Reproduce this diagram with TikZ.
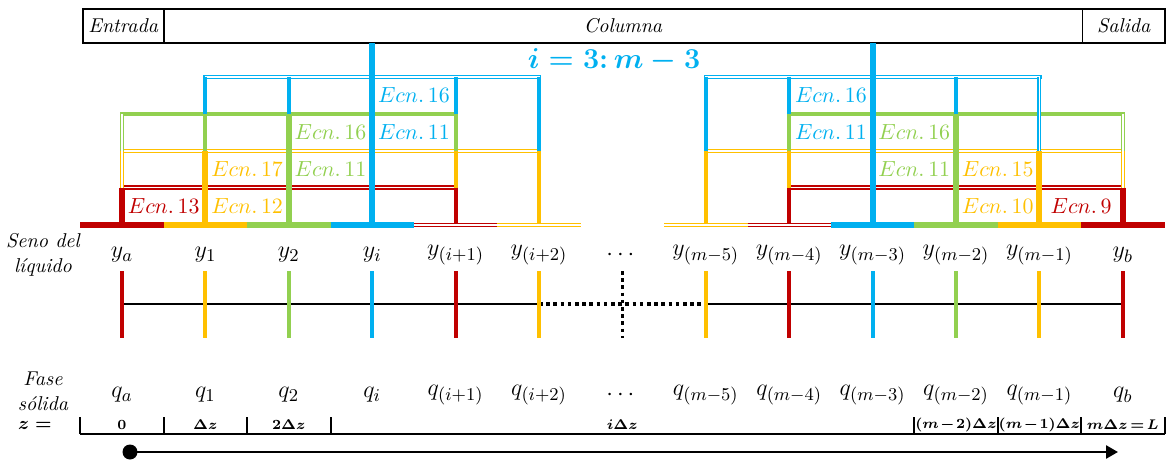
\documentclass[tikz,border=0pt]{standalone}
\usepackage{amsmath}
\usepackage{amssymb}
\usetikzlibrary{arrows.meta, positioning, calc}

\definecolor{ecred}{HTML}{C00000}
\definecolor{ecyellow}{HTML}{FFC000}
\definecolor{ecgreen}{HTML}{92D050}
\definecolor{ecblue}{HTML}{00B0F0}

\begin{document}
\begin{tikzpicture}[
    x=0.5pt, y=-0.5pt,
    hdr/.style={draw=black, line width=0.9pt, outer sep=0pt, inner sep=0pt,
                minimum height=17pt, font=\fontsize{10}{12}\selectfont\itshape},
    bar/.style={line width=3pt},
    dbar/.style={line width=0.8pt, double=white, double distance=0.8pt},
    hline/.style={line width=0.75pt, double=white, double distance=0.7pt, line cap=rect},
    gline/.style={line width=1.9pt, line cap=rect},
    vline/.style={line width=2pt},
    dvline/.style={line width=0.65pt, double=white, double distance=0.7pt},
    cline/.style={line width=3pt},
    ecn/.style={inner sep=0pt, font=\fontsize{11}{13}\selectfont},
    lbl/.style={inner sep=0pt, font=\fontsize{12.5}{14}\selectfont},
    side/.style={inner sep=0pt, align=center, font=\fontsize{10}{12.5}\selectfont\itshape},
    zval/.style={inner sep=0pt, font={\fontsize{7.4}{9}\selectfont\boldmath
                 \medmuskip=1.5mu\relax\thickmuskip=2.5mu\relax}},
    axis/.style={line width=1pt},
    dotline/.style={line width=1.7pt, dash pattern=on 1.8pt off 1.8pt},
    tick/.style={line width=2pt},
    tbl/.style={line width=1pt},
    arrow/.style={-{Triangle[length=6pt, width=6.5pt]}, line width=1.3pt}
]
\useasboundingbox (0,0) rectangle (1173,460);

% columns (centres c, cell edges g) and rows
\foreach \k in {0,...,12}
    \coordinate (c\k) at ({122+83.4*\k},0);
\foreach \k in {0,...,13}
    \coordinate (g\k) at ({80.3+83.4*\k},0);
\coordinate (top) at (0,43);
\coordinate (r0) at (0,77);
\coordinate (r1) at (0,114);
\coordinate (r2) at (0,151);
\coordinate (r3) at (0,187.5);
\coordinate (base) at (0,225);
\coordinate (w1) at (0,95.5);
\coordinate (w2) at (0,132.5);
\coordinate (w3) at (0,169.5);
\coordinate (w4) at (0,206.5);
\coordinate (ylab) at (0,255);
\coordinate (t0) at (0,271);
\coordinate (t1) at (0,338);
\coordinate (ax) at (0,304);
\coordinate (qlab) at (0,395);
\coordinate (zt) at (0,417);
\coordinate (zb) at (0,434);
\coordinate (zlab) at (0,425);

\node[hdr, minimum width=40.5pt] (entrada) at (123.2,26) {Entrada};
\node[hdr, minimum width=459.4pt, right=0pt of entrada] (columna) {Columna};
\node[hdr, minimum width=41.3pt, right=0pt of columna] (salida) {Salida};

\node[inner sep=0pt, text=ecblue, font=\fontsize{15}{17}\selectfont\boldmath]
    (rango) at (614,60) {$i = 3{:}\, m - 3$};

% brackets
\draw[hline, ecblue] (c1 |- r0) -- (c5 |- r0);
\draw[gline, ecgreen] (c0 |- r1) -- (c4 |- r1);
\draw[hline, ecyellow] (c0 |- r2) -- (c5 |- r2);
\draw[hline, ecred] (c0 |- r3) -- (c4 |- r3);
\draw[hline, ecblue] (c7 |- r0) -- (c11 |- r0);
\draw[gline, ecgreen] (c8 |- r1) -- (c12 |- r1);
\draw[hline, ecyellow] (c7 |- r2) -- (c12 |- r2);
\draw[hline, ecred] (c8 |- r3) -- (c12 |- r3);

\foreach \k/\a/\b/\col in {1/r0/r1/ecblue, 1/r1/r2/ecgreen, 2/r0/r1/ecblue,
        4/r0/r1/ecblue, 4/r1/r2/ecgreen, 4/r2/r3/ecyellow, 4/r3/base/ecred,
        5/r0/r2/ecblue, 5/r2/base/ecyellow, 7/r0/r2/ecblue, 7/r2/base/ecyellow,
        8/r0/r1/ecblue, 8/r1/r2/ecgreen, 8/r2/r3/ecyellow, 8/r3/base/ecred,
        10/r0/r1/ecblue}
    \draw[vline, \col] (c\k |- \a) -- (c\k |- \b);
\foreach \k/\a/\b/\col in {0/r1/r2/ecgreen, 0/r2/r3/ecyellow, 11/r0/r2/ecblue,
        12/r1/r2/ecgreen, 12/r2/r3/ecyellow}
    \draw[dvline, \col] (c\k |- \a) -- (c\k |- \b);
\foreach \k/\a/\col in {0/r3/ecred, 1/r2/ecyellow, 2/r1/ecgreen, 3/top/ecblue,
        9/top/ecblue, 10/r1/ecgreen, 11/r2/ecyellow, 12/r3/ecred}
    \draw[cline, \col] (c\k |- \a) -- (c\k |- base);

\foreach \g/\w/\num/\col in {4/w1/16/ecblue, 3/w2/16/ecgreen, 4/w2/11/ecblue,
        2/w3/17/ecyellow, 3/w3/11/ecgreen, 1/w4/13/ecred, 2/w4/12/ecyellow,
        9/w1/16/ecblue, 9/w2/11/ecblue, 10/w2/16/ecgreen, 10/w3/11/ecgreen,
        11/w3/15/ecyellow, 11/w4/10/ecyellow, 12/w4/9/ecred}
    \node[ecn, text=\col] (ecn-\g-\w) at (g\g |- \w) {$Ecn.\,\num$};

% nodes of the column
\draw[axis] (c0 |- ax) -- (c5 |- ax);
\draw[dotline] (c5 |- ax) -- (c7 |- ax);
\draw[axis] (c7 |- ax) -- (c12 |- ax);
\draw[dotline] (c6 |- t0) -- (c6 |- t1);

\foreach \k/\lab/\col/\sty in {0/a/ecred/bar, 1/1/ecyellow/bar, 2/2/ecgreen/bar,
        3/i/ecblue/bar, 4/(i+1)/ecred/dbar, 5/(i+2)/ecyellow/dbar,
        7/(m-5)/ecyellow/dbar, 8/(m-4)/ecred/dbar, 9/(m-3)/ecblue/bar,
        10/(m-2)/ecgreen/bar, 11/(m-1)/ecyellow/bar, 12/b/ecred/bar} {
    \draw[\sty, \col] ($(c\k |- base)+(-41.7,0)$) -- ($(c\k |- base)+(41.7,0)$);
    \draw[tick, \col] (c\k |- t0) -- (c\k |- t1);
    \node[lbl] (y\k) at (c\k |- ylab) {$y_{\lab}$};
    \node[lbl] (q\k) at (c\k |- qlab) {$q_{\lab}$};
}
\node[lbl] (ydots) at (c6 |- ylab) {$\cdots$};
\node[lbl] (qdots) at (c6 |- qlab) {$\cdots$};

\node[side] (seno) at (43,255) {Seno del\\líquido};
\node[side] (fase) at (43,391) {Fase\\sólida};
\node[inner sep=0pt, font=\fontsize{9}{11}\selectfont\boldmath] (zeq) at (35,425) {$z =$};

% axial position
\draw[tbl] (g0 |- zb) -- (g13 |- zb);
\foreach \k in {0,1,2,3,10,11,12,13}
    \draw[tbl] (g\k |- zt) -- (g\k |- zb);
\node[zval] (z0) at (c0 |- zlab) {$0$};
\node[zval] (z1) at (c1 |- zlab) {$\Delta z$};
\node[zval] (z2) at (c2 |- zlab) {$2\Delta z$};
\node[zval] (zi) at (c6 |- zlab) {$i\Delta z$};
\node[zval] (zm2) at (c10 |- zlab) {$(m-2)\Delta z$};
\node[zval] (zm1) at (c11 |- zlab) {$(m-1)\Delta z$};
\node[zval] (zL) at (c12 |- zlab) {$m\Delta z = L$};

\node[circle, fill=black, inner sep=0pt, minimum size=7.5pt] (zstart) at (130,452) {};
\coordinate (zend) at (1118,452);
\draw[arrow] (zstart.center) -- (zend);
\end{tikzpicture}
\end{document}
